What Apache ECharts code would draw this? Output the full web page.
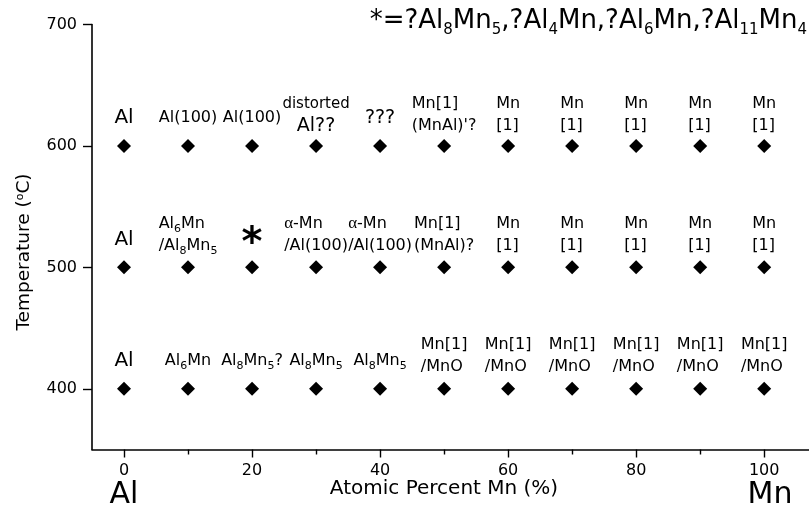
<!DOCTYPE html>
<html><head><meta charset="utf-8">
<script src="https://cdn.jsdelivr.net/npm/echarts@6/dist/echarts.min.js"></script>
<style>html,body{margin:0;padding:0;background:#fff}#c{width:809px;height:506px}</style>
</head><body><div id="c"></div>
<script>
// ---- data ----
const compositions = [0, 10, 20, 30, 40, 50, 60, 70, 80, 90, 100];
const temperatures = [400, 500, 600];
const labels400 = ['Al', 'Al_6Mn', 'Al_8Mn_5?', 'Al_8Mn_5', 'Al_8Mn_5', 'Mn[1]\n/MnO', 'Mn[1]\n/MnO', 'Mn[1]\n/MnO', 'Mn[1]\n/MnO', 'Mn[1]\n/MnO', 'Mn[1]\n/MnO'];
const labels500 = ['Al', 'Al_6Mn\n/Al_8Mn_5', '*', 'α-Mn\n/Al(100)', 'α-Mn\n/Al(100)', 'Mn[1]\n(MnAl)?', 'Mn\n[1]', 'Mn\n[1]', 'Mn\n[1]', 'Mn\n[1]', 'Mn\n[1]'];
const labels600 = ['Al', 'Al(100)', 'Al(100)', 'distorted\nAl??', '???', "Mn[1]\n(MnAl)'?", 'Mn\n[1]', 'Mn\n[1]', 'Mn\n[1]', 'Mn\n[1]', 'Mn\n[1]'];
const xTickValues = [0, 20, 40, 60, 80, 100];
const xMinorTickValues = [10, 30, 50, 70, 90];
const yTickValues = [400, 500, 600, 700];
const titleText = '*=?Al_8Mn_5,?Al_4Mn,?Al_6Mn,?Al_11Mn_4';
const xAxisName = 'Atomic Percent Mn (%)';
const yAxisName = 'Temperature (^oC)';
const leftElement = 'Al';
const rightElement = 'Mn';

// ---- styling helpers ----
const FONT = 'DejaVu Sans';
function tokens(str) {
  let out = '';
  const re = /(α)|_(\d+)|([^α_]+)/g;
  let m;
  while ((m = re.exec(str)) !== null) {
    if (m[1]) out += '{g|α}';
    else if (m[2]) out += '{s|' + m[2] + '}';
    else out += '{t|' + m[3] + '}';
  }
  return out;
}
function richLine(line, col) {
  if (line === 'distorted') return '{small|distorted}';
  if (line === 'Al??' || line === '???') return '{big|' + line + '}';
  if (line === '*') return '{star|*}';
  if (col === 0) return '{big0|' + line + '}';
  return tokens(line);
}
function richText(text, col) { return text.split('\n').map(l => richLine(l, col)).join('\n'); }
function labelOffset(text, temp) {
  if (text === '*') return -23;
  if (text.split('\n').length > 1) return temp === 600 ? -31 : -33;
  return -28;
}
const labelsByTemp = { 400: labels400, 500: labels500, 600: labels600 };

const richStyles = {
  t: { fontSize: 16, fontFamily: FONT, color: '#000', align: 'left' },
  s: { fontSize: 11, fontFamily: FONT, color: '#000', verticalAlign: 'bottom', align: 'left' },
  small: { fontSize: 15, fontFamily: FONT, color: '#000' },
  big: { fontSize: 19, fontFamily: FONT, color: '#000' },
  big0: { fontSize: 20, fontFamily: FONT, color: '#000' },
  g: { fontSize: 17, fontFamily: 'Liberation Serif', color: '#000', align: 'left' },
  star: { fontSize: 40, fontWeight: 'bold', fontFamily: FONT, color: '#000', lineHeight: 40 }
};

const series = temperatures.map(t => ({
  type: 'scatter',
  symbol: 'diamond',
  symbolSize: 14,
  itemStyle: { color: '#000', opacity: 1 },
  emphasis: { disabled: true },
  data: compositions.map((c, i) => ({
    value: [c, t],
    label: { offset: [0, labelOffset(labelsByTemp[t][i], t)] }
  })),
  label: {
    show: true,
    position: 'inside',
    align: 'center',
    verticalAlign: 'middle',
    color: '#000',
    opacity: 1,
    fontFamily: FONT,
    fontSize: 17,
    lineHeight: 22,
    formatter: p => richText(labelsByTemp[t][p.dataIndex], p.dataIndex),
    rich: richStyles
  }
}));

const chart = echarts.init(document.getElementById('c'), null, { renderer: 'canvas' });
chart.setOption({
  animation: false,
  backgroundColor: '#fff',
  title: {
    text: titleText.replace(/_(\d+)/g, '{s|$1}'),
    right: 2, top: 5, padding: 0,
    textStyle: {
      fontFamily: FONT, fontSize: 26, fontWeight: 'normal', color: '#000', lineHeight: 33,
      rich: { s: { fontFamily: FONT, fontSize: 15, color: '#000', verticalAlign: 'bottom' } }
    }
  },
  grid: { left: 92, right: 0, top: 24.5, bottom: 56.5 },
  xAxis: [{
    type: 'value', min: -5, max: 107,
    axisLine: { show: true, onZero: false, lineStyle: { color: '#000', width: 1.6 } },
    axisTick: { show: true, customValues: xTickValues, length: 8, lineStyle: { color: '#000', width: 1.4 } },
    axisLabel: { customValues: xTickValues, color: '#000', fontFamily: FONT, fontSize: 16, margin: 13 },
    splitLine: { show: false }
  }, {
    type: 'value', min: -5, max: 107, position: 'bottom',
    axisLine: { show: false, onZero: false },
    axisTick: { show: true, customValues: xMinorTickValues, length: 5, lineStyle: { color: '#000', width: 1.4 } },
    axisLabel: { show: false },
    splitLine: { show: false }
  }],
  yAxis: {
    type: 'value', min: 350, max: 700,
    axisLine: { show: true, onZero: false, lineStyle: { color: '#000', width: 1.6 } },
    axisTick: { show: true, customValues: yTickValues, length: 9, lineStyle: { color: '#000', width: 1.4 } },
    axisLabel: { customValues: yTickValues, color: '#000', fontFamily: FONT, fontSize: 16, margin: 15 },
    splitLine: { show: false }
  },
  graphic: [
    { type: 'text', x: 444, y: 489, style: { text: xAxisName, fontFamily: FONT, fontSize: 20, fill: '#000', align: 'center', verticalAlign: 'middle', textAlign: 'center', textVerticalAlign: 'middle' } },
    { type: 'text', x: 24, y: 252, rotation: Math.PI / 2,
      style: { text: yAxisName.replace(/\^(\w)/, '{sup|$1}'), fontFamily: FONT, fontSize: 18.5, fill: '#000', align: 'center', verticalAlign: 'middle', textAlign: 'center', textVerticalAlign: 'middle',
        rich: { sup: { fontFamily: FONT, fontSize: 11, fill: '#000', verticalAlign: 'top' } } } },
    { type: 'text', x: 124, y: 495, style: { text: leftElement, fontFamily: FONT, fontSize: 30, fill: '#000', align: 'center', verticalAlign: 'middle', textAlign: 'center', textVerticalAlign: 'middle' } },
    { type: 'text', x: 770, y: 495, style: { text: rightElement, fontFamily: FONT, fontSize: 30, fill: '#000', align: 'center', verticalAlign: 'middle', textAlign: 'center', textVerticalAlign: 'middle' } }
  ],
  series: series
});
</script>
</body></html>
